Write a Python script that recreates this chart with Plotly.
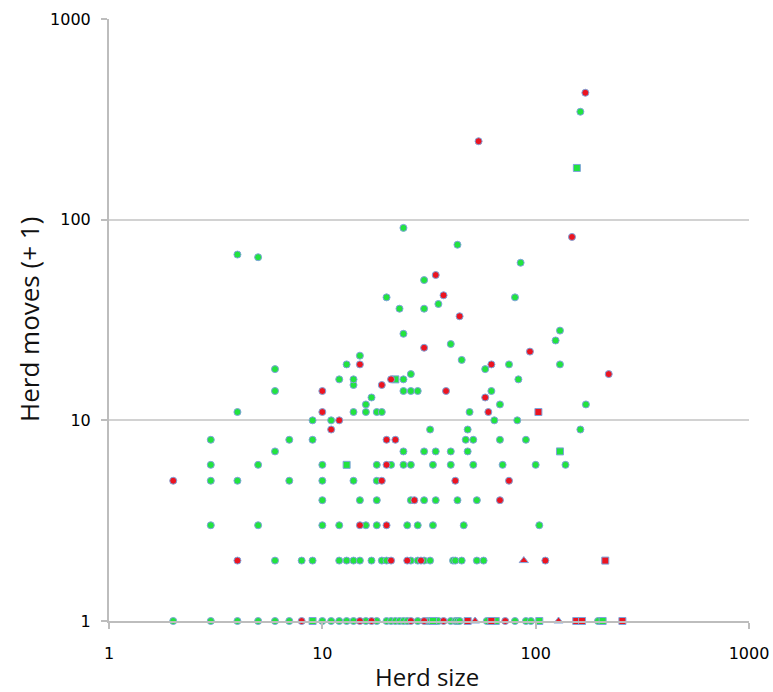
import plotly.graph_objects as go

# ---- data: herd size (x) vs herd moves + 1 (y) ----
green_circle_x = [2, 3, 4, 5, 6, 7, 10, 11, 12, 13, 14, 16, 18, 20, 21, 22, 23, 24, 25, 28, 31, 32, 34, 35, 40, 42, 43, 44, 59, 80, 90, 95, 196,
                  6, 8, 9, 12, 13, 14, 15, 17, 19, 20, 26, 28, 30, 32, 41, 42, 45, 53, 57,
                  3, 5, 10, 12, 16, 18, 25, 28, 33, 46, 104,
                  10, 15, 18, 26, 30, 34, 43, 53,
                  3, 4, 7, 10, 14, 18,
                  3, 5, 10, 18, 21, 24, 26, 33, 40, 51, 70, 100, 138,
                  6, 24, 30, 34, 40, 48,
                  3, 7, 9, 47, 51, 68, 90,
                  32, 48, 162,
                  9, 11, 64, 82,
                  4, 14, 16, 18, 19, 49,
                  16, 68, 172,
                  17,
                  6, 24, 26, 28, 62,
                  14,
                  12, 14, 24, 83,
                  26,
                  6, 58,
                  13, 75, 130,
                  45, 15, 40, 124, 24, 130, 23, 30, 35, 20, 80, 30, 85, 5, 4, 43, 24, 162]
green_circle_y = [1] * 33 + [2] * 19 + [3] * 11 + [4] * 8 + [5] * 6 + [6] * 13 + [7] * 6 + [8] * 7 + [9] * 3 + [10] * 4 + \
                 [11] * 6 + [12] * 3 + [13] + [14] * 5 + [15] + [16] * 4 + [17] + [18] * 2 + [19] * 3 + \
                 [20, 21, 24, 25, 27, 28, 36, 36, 38, 41, 41, 50, 61, 65, 67, 75, 91, 345]

red_circle_x = [8, 15, 17, 26, 30, 37, 72,
                4, 21, 25, 29, 111,
                15, 20,
                27, 68,
                2, 19, 42, 75,
                20, 20, 22, 11, 12, 10, 60, 58, 10, 38, 19, 21, 220, 15, 62, 94, 30, 44, 37, 34, 148, 54, 171]
red_circle_y = [1] * 7 + [2] * 5 + [3] * 2 + [4] * 2 + [5] * 4 + \
               [6, 8, 8, 9, 10, 11, 11, 13, 14, 14, 15, 16, 17, 19, 19, 22, 23, 33, 42, 53, 82, 246, 429]

green_square_x = [9, 33, 65, 104, 206, 13, 130, 22, 156]
green_square_y = [1, 1, 1, 1, 1, 6, 7, 16, 181]

red_square_x = [48, 62, 155, 165, 255, 212, 103]
red_square_y = [1, 1, 1, 1, 1, 2, 11]

red_triangle_x = [52, 128, 88]
red_triangle_y = [1, 1, 2]

tick_vals = [1, 10, 100, 1000]
tick_text = ["1", "10", "100", "1000"]

GREEN = "#22e33f"
RED = "#ec1420"
OUTLINE = "#7ea4dc"

fig = go.Figure()


def add(xs, ys, color, symbol, size):
    fig.add_trace(go.Scatter(
        x=xs, y=ys, mode="markers", showlegend=False, cliponaxis=False,
        marker=dict(color=color, symbol=symbol, size=size,
                    line=dict(color=OUTLINE, width=1))))


add(green_circle_x, green_circle_y, GREEN, "circle", 7)
add(green_square_x, green_square_y, GREEN, "square", 7)
add(red_circle_x, red_circle_y, RED, "circle", 7)
add(red_square_x, red_square_y, RED, "square", 7)
add(red_triangle_x, red_triangle_y, RED, "triangle-up", 8)

axis_font = dict(family="DejaVu Sans", size=16, color="#000000")

fig.update_layout(
    width=773, height=692, autosize=False,
    margin=dict(l=109, r=24, t=19, b=71, autoexpand=False),
    paper_bgcolor="white", plot_bgcolor="white",
    xaxis=dict(type="log", range=[0, 3], tickvals=tick_vals, ticktext=tick_text,
               showgrid=False, zeroline=False, showline=True, linecolor="#bdbdbd", linewidth=2,
               ticks="outside", ticklen=6, tickcolor="#bdbdbd", tickwidth=1.5, automargin=False,
               tickfont=axis_font, ticklabelstandoff=11),
    yaxis=dict(type="log", range=[0, 3], tickvals=tick_vals, ticktext=tick_text,
               showgrid=True, gridcolor="#d2d2d2", gridwidth=2, zeroline=False,
               showline=True, linecolor="#bdbdbd", linewidth=2, automargin=False,
               ticks="outside", ticklen=6, tickcolor="#bdbdbd", tickwidth=1.5,
               tickfont=axis_font, ticklabelstandoff=7),
    annotations=[
        dict(text="Herd size", xref="paper", yref="paper", x=0.497, y=-0.093,
             xanchor="center", yanchor="middle", showarrow=False,
             font=dict(family="Open Sans", size=24, color="#111111")),
        dict(text="Herd moves (+ 1)", xref="paper", yref="paper", x=-0.125, y=0.5,
             xanchor="center", yanchor="middle", showarrow=False, textangle=-90,
             font=dict(family="Open Sans", size=26, color="#111111")),
    ],
)

fig.write_html("out.html", config={"displayModeBar": False, "responsive": False},
               post_script="document.body.style.margin='0px';document.body.style.overflow='hidden';")
